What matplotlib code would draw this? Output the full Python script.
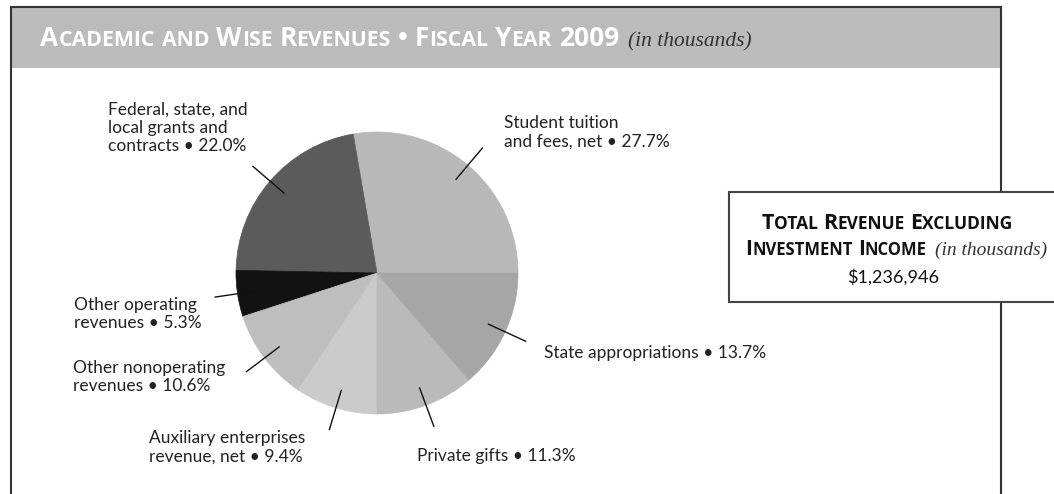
import matplotlib
matplotlib.use("Agg")
import matplotlib.pyplot as plt
from matplotlib.patches import Rectangle
import numpy as np

# Datos del grafico
categories = [
    "Student tuition\nand fees, net",
    "Federal, state, and\nlocal grants and\ncontracts",
    "Other operating\nrevenues",
    "Other nonoperating\nrevenues",
    "Auxiliary enterprises\nrevenue, net",
    "Private gifts",
    "State appropriations",
]
shares = [27.7, 22.0, 5.3, 10.6, 9.4, 11.3, 13.7]
slice_colors = ["#b8b8b8", "#5b5b5b", "#121212", "#bebebe", "#cbcbcb", "#bababa", "#a6a6a6"]

title = "Academic and Wise Revenues \u2022 Fiscal Year 2009"
box_line1 = "Total Revenue Excluding"
box_line2 = "Investment Income"
total_revenue = "$1,236,946"
unit_note = "(in thousands)"

# posicion de cada etiqueta (x, y centro) en pixeles
label_pos = [(504, 132), (108, 128), (74, 314), (73, 377), (149, 447), (417, 456), (544, 353)]

W, H = 1054, 494
SANS = "Lato"
CAPS = "Open Sans"
SERIF = "Liberation Serif"

fig = plt.figure(figsize=(W / 100, H / 100), dpi=100)
ax = fig.add_axes([0, 0, 1, 1])

cx, cy, rad = 377, 273, 141
wedges, _ = ax.pie(shares, colors=slice_colors, startangle=0, counterclock=False,
                   center=(cx, cy), radius=rad)
for w in wedges:
    w.set_edgecolor(w.get_facecolor())
    w.set_linewidth(0.5)

ax.set_xlim(0, W)
ax.set_ylim(H, 0)
ax.set_aspect("auto")
ax.axis("off")

# marco y cabecera
frame_col = "#333333"
ax.add_patch(Rectangle((11, 7), 990, 61, facecolor="#bbbbbb", edgecolor="none", zorder=1))
ax.plot([11, 1001], [7, 7], color=frame_col, lw=1.5, zorder=2)
ax.plot([11, 11], [7, H], color=frame_col, lw=1.5, zorder=2)
ax.plot([1001, 1001], [7, H], color=frame_col, lw=1.5, zorder=2)

# lineas guia y etiquetas
for w, name, share, (lx, ly) in zip(wedges, categories, shares, label_pos):
    ang = np.deg2rad((w.theta1 + w.theta2) / 2)
    r0, r1 = rad * 0.87, rad * 1.16
    ax.plot([cx + r0 * np.cos(ang), cx + r1 * np.cos(ang)],
            [cy + r0 * np.sin(ang), cy + r1 * np.sin(ang)], color="#111111", lw=1, zorder=3)
    ax.text(lx, ly, f"{name} \u2022 {share:.1f}%", ha="left", va="center",
            fontsize=12.5, family=SANS, color="#222222", linespacing=1.18)

renderer = fig.canvas.get_renderer()


def width_of(s, **kw):
    t = ax.text(0, 0, s, **kw)
    w = t.get_window_extent(renderer).width
    t.remove()
    return w


def small_caps(x, y, text, big, small, ha="left", **kw):
    words = text.split(" ")
    sp = width_of("n n", fontsize=big, **kw) - width_of("nn", fontsize=big, **kw)
    placed = []
    cursor = 0
    for i, word in enumerate(words):
        if i:
            cursor += sp
        runs = []
        for ch in word:
            size = small if ch.islower() else big
            if runs and runs[-1][1] == size:
                runs[-1][0] += ch.upper()
            else:
                runs.append([ch.upper(), size])
        for s, size in runs:
            t = ax.text(0, y, s, fontsize=size, ha="left", va="baseline", **kw)
            placed.append((t, cursor))
            cursor += t.get_window_extent(renderer).width
    if ha == "center":
        x0 = x - cursor / 2
    elif ha == "right":
        x0 = x - cursor
    else:
        x0 = x
    for t, off in placed:
        t.set_x(x0 + off)
    return x0, x0 + cursor


# titulo
_, xe = small_caps(40, 46, title, 19, 15.3, family=CAPS, weight="bold", color="white", zorder=4)
ax.text(xe + 9, 46, unit_note, fontsize=15.5, family=SERIF, style="italic", color="#333333",
        va="baseline", ha="left", zorder=4)

# recuadro de total
ax.add_patch(Rectangle((729, 192), 360, 110, facecolor="white", edgecolor="#444444", lw=1.5, zorder=5))
small_caps(887, 229, box_line1, 15.5, 12.5, ha="center", family=CAPS, weight="bold", color="#111111", zorder=6)
gap = 8
note_w = width_of(unit_note, fontsize=14, family=SERIF, style="italic") + gap
xs, xe = small_caps(896 - note_w / 2, 255, box_line2, 15, 12, ha="center", family=CAPS,
                    weight="bold", color="#111111", zorder=6)
ax.text(xe + gap, 255, unit_note, fontsize=14, family=SERIF, style="italic", color="#333333",
        va="baseline", ha="left", zorder=6)
ax.text(893, 283, total_revenue, fontsize=13, family=SANS, color="#111111",
        ha="center", va="baseline", zorder=6)

fig.savefig("out.png", dpi=100)
